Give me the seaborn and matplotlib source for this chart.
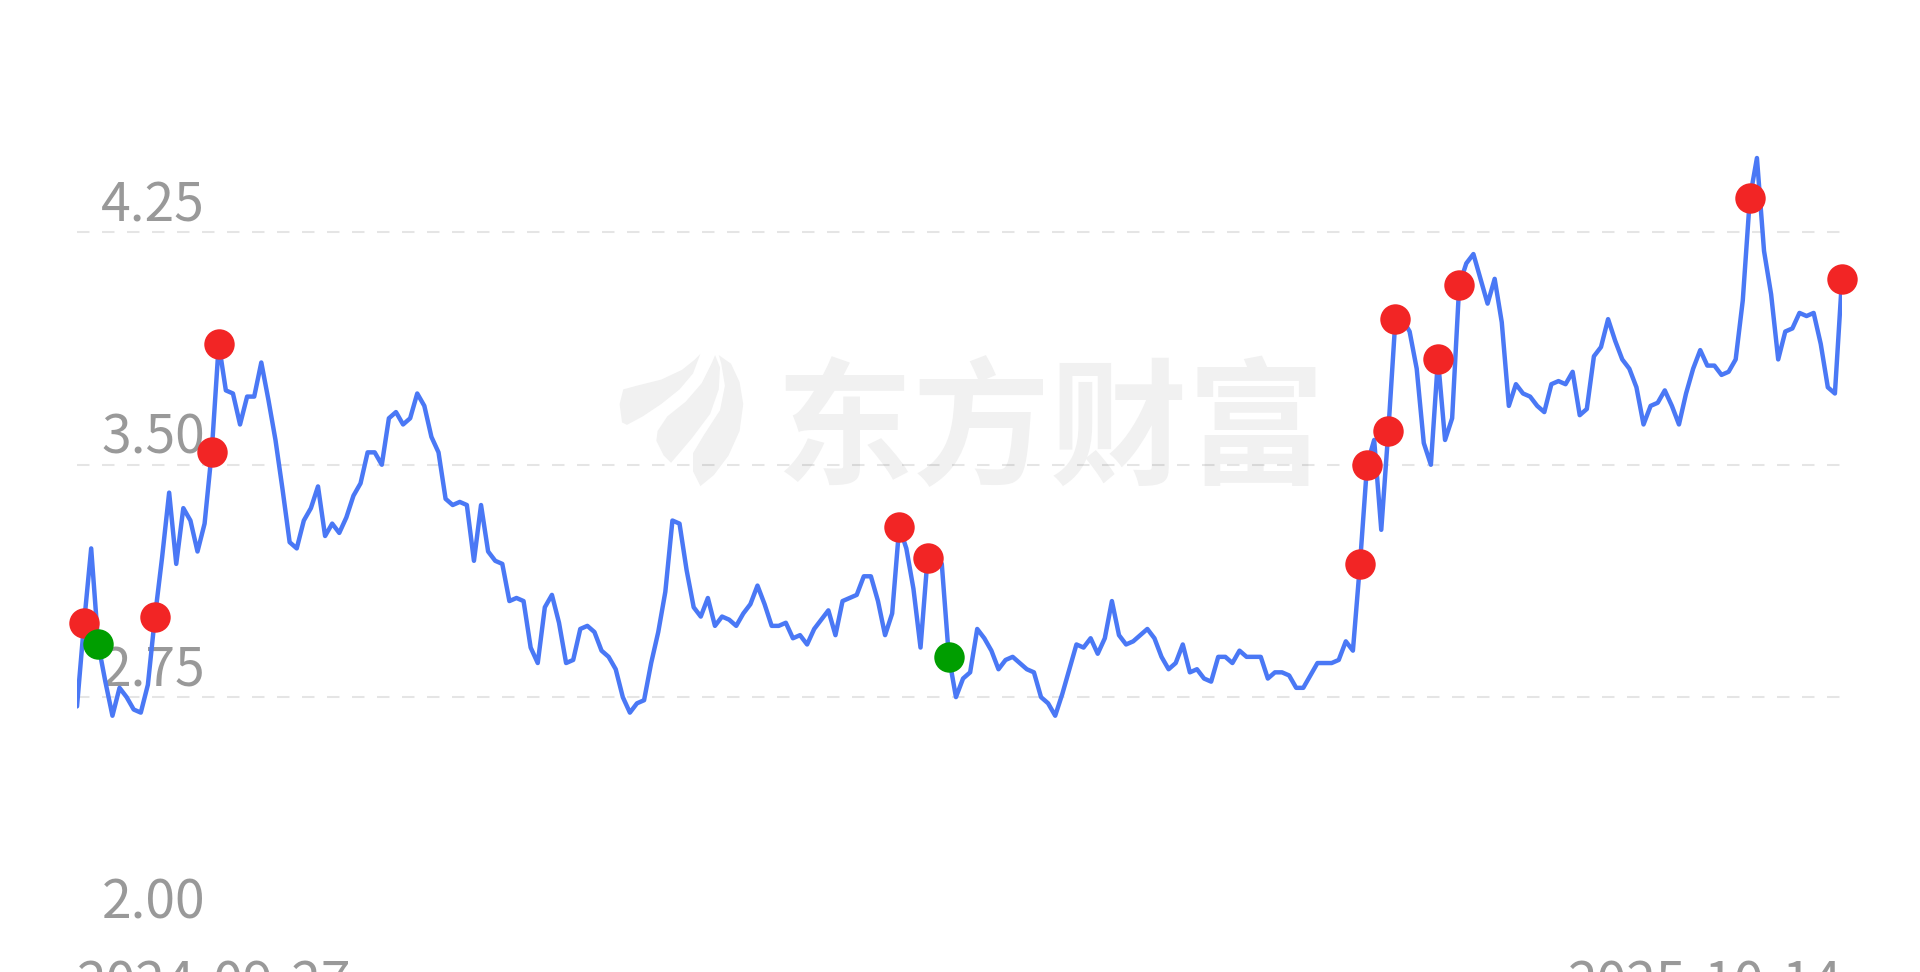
import numpy as np
import pandas as pd
import matplotlib
matplotlib.use("Agg")
import matplotlib.pyplot as plt
import seaborn as sns
from matplotlib.patches import Polygon

# ---------------- data ----------------
start_label = "2024-09-27"
end_label = "2025-10-14"
y_tick_values = [2.00, 2.75, 3.50, 4.25]
y_tick_labels = ["2.00", "2.75", "3.50", "4.25"]
watermark_text = "东方财富"

price = [
    2.72, 2.99, 3.23, 2.92, 2.80, 2.69, 2.78, 2.75, 2.71, 2.70,
    2.79, 3.01, 3.20, 3.41, 3.18, 3.36, 3.32, 3.22, 3.31, 3.54,
    3.89, 3.74, 3.73, 3.63, 3.72, 3.72, 3.83, 3.71, 3.58, 3.42,
    3.25, 3.23, 3.32, 3.36, 3.43, 3.27, 3.31, 3.28, 3.33, 3.40,
    3.44, 3.54, 3.54, 3.50, 3.65, 3.67, 3.63, 3.65, 3.73, 3.69,
    3.59, 3.54, 3.39, 3.37, 3.38, 3.37, 3.19, 3.37, 3.22, 3.19,
    3.18, 3.06, 3.07, 3.06, 2.91, 2.86, 3.04, 3.08, 2.99, 2.86,
    2.87, 2.97, 2.98, 2.96, 2.90, 2.88, 2.84, 2.75, 2.70, 2.73,
    2.74, 2.86, 2.96, 3.09, 3.32, 3.31, 3.16, 3.04, 3.01, 3.07,
    2.98, 3.01, 3.00, 2.98, 3.02, 3.05, 3.11, 3.05, 2.98, 2.98,
    2.99, 2.94, 2.95, 2.92, 2.97, 3.00, 3.03, 2.95, 3.06, 3.07,
    3.08, 3.14, 3.14, 3.06, 2.95, 3.02, 3.30, 3.23, 3.10, 2.91,
    3.20, 3.22, 3.18, 2.88, 2.75, 2.81, 2.83, 2.97, 2.94, 2.90,
    2.84, 2.87, 2.88, 2.86, 2.84, 2.83, 2.75, 2.73, 2.69, 2.76,
    2.84, 2.92, 2.91, 2.94, 2.89, 2.94, 3.06, 2.95, 2.92, 2.93,
    2.95, 2.97, 2.94, 2.88, 2.84, 2.86, 2.92, 2.83, 2.84, 2.81,
    2.80, 2.88, 2.88, 2.86, 2.90, 2.88, 2.88, 2.88, 2.81, 2.83,
    2.83, 2.82, 2.78, 2.78, 2.82, 2.86, 2.86, 2.86, 2.87, 2.93,
    2.90, 3.18, 3.50, 3.58, 3.29, 3.61, 3.97, 3.97, 3.93, 3.81,
    3.57, 3.50, 3.84, 3.58, 3.65, 4.08, 4.15, 4.18, 4.10, 4.02,
    4.10, 3.96, 3.69, 3.76, 3.73, 3.72, 3.69, 3.67, 3.76, 3.77,
    3.76, 3.80, 3.66, 3.68, 3.85, 3.88, 3.97, 3.90, 3.84, 3.81,
    3.75, 3.63, 3.69, 3.70, 3.74, 3.69, 3.63, 3.73, 3.81, 3.87,
    3.82, 3.82, 3.79, 3.80, 3.84, 4.03, 4.36, 4.49, 4.19, 4.05,
    3.84, 3.93, 3.94, 3.99, 3.98, 3.99, 3.89, 3.75, 3.73, 4.10,
]
red_idx = [1, 11, 19, 20, 116, 120, 181, 182, 185, 186, 192, 195, 236, 249]
green_idx = [3, 123]

# ---------------- styling ----------------
sns.set_theme(style="white")
plt.rcParams["font.family"] = ["Noto Sans CJK SC", "DejaVu Sans"]

LINE_C = "#4A78F5"
RED_C = "#F22525"
GREEN_C = "#009E00"
TXT_C = "#999999"

W, H = 1920, 972
fig = plt.figure(figsize=(W / 100, H / 100), dpi=100)
fig.patch.set_facecolor("white")
ax_left, ax_right, ax_bottom = 77, 1842, 929.5
ax = fig.add_axes([ax_left / W, (H - ax_bottom) / H, (ax_right - ax_left) / W, ax_bottom / H])
ax.set_facecolor("white")

df = pd.DataFrame({"day": np.arange(len(price)), "price": price})
red_df = df.iloc[red_idx]
green_df = df.iloc[green_idx]

# watermark (behind everything)
S = W / 1568.0
def to_fig(pts):
    return [(x * S / W, 1 - y * S / H) for x, y in pts]

petals = [
    [(508, 345), (506, 330), (509, 318), (520, 315), (540, 310), (557, 302), (567, 294), (572, 289),
     (566, 305), (555, 318), (540, 330), (525, 340), (512, 347)],
    [(537, 352), (545, 340), (560, 328), (573, 313), (581, 297), (584, 290), (588, 300), (587, 318),
     (580, 338), (565, 358), (548, 378), (542, 372), (536, 360)],
    [(572, 397), (566, 385), (566, 370), (575, 355), (588, 335), (592, 315), (589, 297), (587, 290),
     (597, 297), (604, 312), (607, 330), (604, 352), (595, 372), (583, 388)],
]
for p in petals:
    ax.add_patch(Polygon(to_fig(p), closed=True, transform=fig.transFigure,
                         facecolor="#F1F1F1", edgecolor="none", zorder=0.1))
ax.text(1050 / W, 1 - 474 / H, watermark_text, transform=fig.transFigure,
        ha="center", va="baseline", fontsize=99, fontweight="bold",
        color="#F1F1F1", zorder=0.2)

# line and dots
sns.lineplot(data=df, x="day", y="price", ax=ax, color=LINE_C, linewidth=3.2,
             zorder=3, solid_joinstyle="round", solid_capstyle="round")
sns.scatterplot(data=red_df, x="day", y="price", ax=ax, color=RED_C, s=480,
                linewidth=0, zorder=4, clip_on=False)
sns.scatterplot(data=green_df, x="day", y="price", ax=ax, color=GREEN_C, s=480,
                linewidth=0, zorder=4, clip_on=False)

# axes
ax.set_xlim(0, len(price) - 1)
ax.set_ylim(2.0, 5.0)
ax.set_yticks(y_tick_values[1:])
ax.yaxis.grid(True, color="black", alpha=0.1, linewidth=1.5, linestyle=(0, (6, 6)))
ax.xaxis.grid(False)
ax.set_axisbelow(True)
for sp in ax.spines.values():
    sp.set_visible(False)
ax.tick_params(axis="y", length=0, labelleft=False)
ax.set_xlabel("")
ax.set_ylabel("")

ax.set_xticks([0, len(price) - 1])
ax.set_xticklabels([start_label, end_label])
ax.tick_params(axis="x", length=0, pad=20.5, labelsize=38.5, labelcolor=TXT_C)
xt = ax.get_xticklabels()
xt[0].set_ha("left")
xt[1].set_ha("right")

ytrans = ax.get_yaxis_transform()
label_x = (205 - ax_left) / (ax_right - ax_left)
for v, lab in zip(y_tick_values, y_tick_labels):
    ax.annotate(lab, xy=(label_x, v), xycoords=ytrans, xytext=(0, 8),
                textcoords="offset points", ha="right", va="baseline",
                fontsize=38.5, color=TXT_C, zorder=2, annotation_clip=False)

fig.savefig("out.png", dpi=100, facecolor="white")
